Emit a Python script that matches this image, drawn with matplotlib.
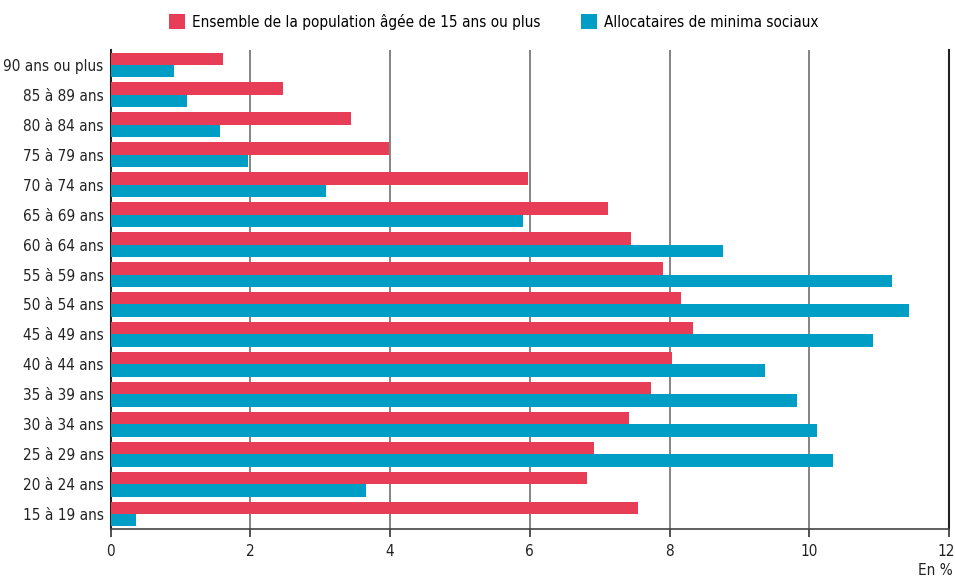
import numpy as np
import matplotlib.pyplot as plt
import matplotlib.transforms as mtransforms

plt.rcParams['font.family'] = ['DejaVu Sans']
plt.rcParams['font.stretch'] = 'condensed'

# age groups, top to bottom as in the chart
ages = ['90 ans ou plus', '85 à 89 ans', '80 à 84 ans', '75 à 79 ans', '70 à 74 ans',
        '65 à 69 ans', '60 à 64 ans', '55 à 59 ans', '50 à 54 ans', '45 à 49 ans',
        '40 à 44 ans', '35 à 39 ans', '30 à 34 ans', '25 à 29 ans', '20 à 24 ans',
        '15 à 19 ans']
ensemble = [1.61, 2.47, 3.44, 3.99, 5.97, 7.12, 7.45, 7.91, 8.16, 8.33,
            8.03, 7.74, 7.42, 6.92, 6.82, 7.55]
allocataires = [0.91, 1.10, 1.56, 1.97, 3.09, 5.90, 8.76, 11.18, 11.43, 10.91,
                9.36, 9.82, 10.11, 10.34, 3.66, 0.37]
xticks = [0, 2, 4, 6, 8, 10, 12]

pink = '#E83D56'
blue = '#009EC4'
fs = 11

fig = plt.figure(figsize=(9.55, 5.8), dpi=100)
ax = fig.add_axes([110.5/955, 1-529/580, (949-110.5)/955, (529-50)/580])

y = np.arange(len(ages))
h = 0.415
ax.barh(y - h/2, ensemble, height=h, color=pink, label='Ensemble de la population âgée de 15 ans ou plus', zorder=3)
ax.barh(y + h/2, allocataires, height=h, color=blue, label='Allocataires de minima sociaux', zorder=3)

ax.set_ylim(len(ages) - 0.5, -0.5)
ax.set_xlim(0, 12)
ax.set_yticks(y)
ax.set_yticklabels(ages, fontsize=fs, color='#222222')
ax.set_xticks(xticks)
ax.set_xticklabels([str(t) for t in xticks], fontsize=fs, color='#222222')
ax.tick_params(axis='y', length=0, pad=5)
ax.tick_params(axis='x', length=6, width=1.2, color='#333333', pad=5)

# nudge the "12" label a little so it stays inside the picture
last = ax.get_xticklabels()[-1]
last.set_transform(last.get_transform() + mtransforms.ScaledTranslation(-3/100, 0, fig.dpi_scale_trans))

for t in xticks[1:-1]:
    ax.axvline(t, color='#7a7a7a', lw=1.3, zorder=1)

ax.spines['top'].set_visible(False)
ax.spines['left'].set_color('#222222')
ax.spines['left'].set_linewidth(1.5)
ax.spines['bottom'].set_color('#444444')
ax.spines['bottom'].set_linewidth(1.2)
ax.spines['right'].set_color('#222222')
ax.spines['right'].set_linewidth(1.5)

fig.legend(loc='upper center', bbox_to_anchor=(0.517, 1.0), ncol=2, frameon=False,
           fontsize=fs, handlelength=1.05, handleheight=1.05, columnspacing=2.7,
           handletextpad=0.45, borderaxespad=0.5)
fig.text(953/955, 1 - 578/580, 'En %', ha='right', va='bottom', fontsize=fs, color='#222222')

plt.savefig('out.png', dpi=100)
